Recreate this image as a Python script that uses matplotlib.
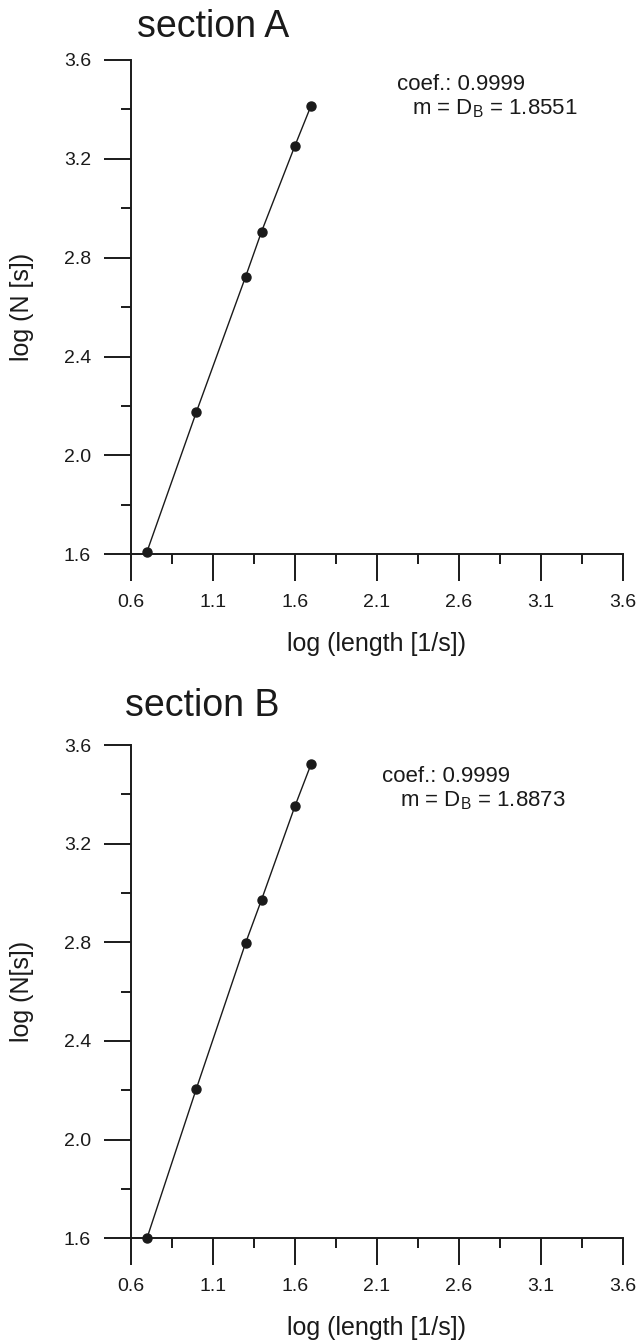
import numpy as np
import matplotlib
matplotlib.use("Agg")
import matplotlib.pyplot as plt
from matplotlib.ticker import FixedLocator

plt.rcParams['font.family'] = ['Liberation Sans', 'DejaVu Sans']
plt.rcParams['mathtext.fontset'] = 'custom'
plt.rcParams['mathtext.rm'] = 'Liberation Sans'
plt.rcParams['mathtext.it'] = 'Liberation Sans'

# log of box sizes (5, 10, 20, 25, 40, 50)
log_length = [0.699, 1.0, 1.301, 1.398, 1.602, 1.699]

# log N(s) for each section
logN_A = [1.61, 2.175, 2.724, 2.906, 3.254, 3.414]
logN_B = [1.60, 2.206, 2.798, 2.973, 3.353, 3.521]

titles = ['section A', 'section B']
ylabels = ['log (N [s])', 'log (N[s])']
coefs = ['0.9999', '0.9999']
slopes = ['1.8551', '1.8873']

xticks = [0.6, 1.1, 1.6, 2.1, 2.6, 3.1, 3.6]
xminor = [0.85, 1.35, 1.85, 2.35, 2.85, 3.35]
yticks = [1.6, 2.0, 2.4, 2.8, 3.2, 3.6]
yminor = [1.8, 2.2, 2.6, 3.0, 3.4]

ink = '#1a1a1a'

fig = plt.figure(figsize=(6.43, 13.40), dpi=100)
W, H = 643, 1340

# axes boxes in pixels: left, top, right, bottom
boxes = [(130.7, 60, 622.7, 554.3), (130.7, 745, 622.7, 1238.3)]
series = [logN_A, logN_B]
title_pos = [(137, 27), (125, 706)]
text_pos = [(397, 84, 412, 109), (382, 776, 400, 801)]

for i in range(2):
    l, t, r, b = boxes[i]
    ax = fig.add_axes([l / W, 1 - b / H, (r - l) / W, (b - t) / H])
    ax.plot(log_length, series[i], color=ink, lw=1.0, marker='o', ms=6.5,
            mfc=ink, mec=ink, clip_on=False, zorder=3)
    ax.set_xlim(0.6, 3.6)
    ax.set_ylim(1.6, 3.6)
    ax.set_xticks(xticks)
    ax.set_yticks(yticks)
    ax.set_xticklabels(['%.1f' % v for v in xticks])
    ax.set_yticklabels(['%.1f' % v for v in yticks])
    ax.xaxis.set_minor_locator(FixedLocator(xminor))
    ax.yaxis.set_minor_locator(FixedLocator(yminor))
    for s in ['top', 'right']:
        ax.spines[s].set_visible(False)
    for s in ['left', 'bottom']:
        ax.spines[s].set_linewidth(1.4)
        ax.spines[s].set_color(ink)
    ax.tick_params(which='major', direction='out', length=19.5, width=1.4,
                   color=ink, labelcolor=ink, labelsize=14, pad=9)
    ax.tick_params(which='minor', direction='out', length=7.5, width=1.4,
                   color=ink)
    ax.set_xlabel('log (length [1/s])', fontsize=18, color=ink)
    ax.set_ylabel(ylabels[i], fontsize=18, color=ink)
    ax.xaxis.set_label_coords(0.5, -0.157)
    ax.yaxis.set_label_coords(-0.197, 0.5)
    ax.patch.set_alpha(0)

    tx, ty = title_pos[i]
    fig.text(tx / W, 1 - ty / H, titles[i], fontsize=27, color=ink,
             ha='left', va='center')
    x1, y1, x2, y2 = text_pos[i]
    fig.text(x1 / W, 1 - y1 / H, 'coef.: ' + coefs[i], fontsize=16,
             color=ink, ha='left', va='center')
    fig.text(x2 / W, 1 - y2 / H, r'm = D$_\mathrm{B}$ = ' + slopes[i],
             fontsize=16, color=ink, ha='left', va='center')

fig.savefig('out.png', dpi=100)
